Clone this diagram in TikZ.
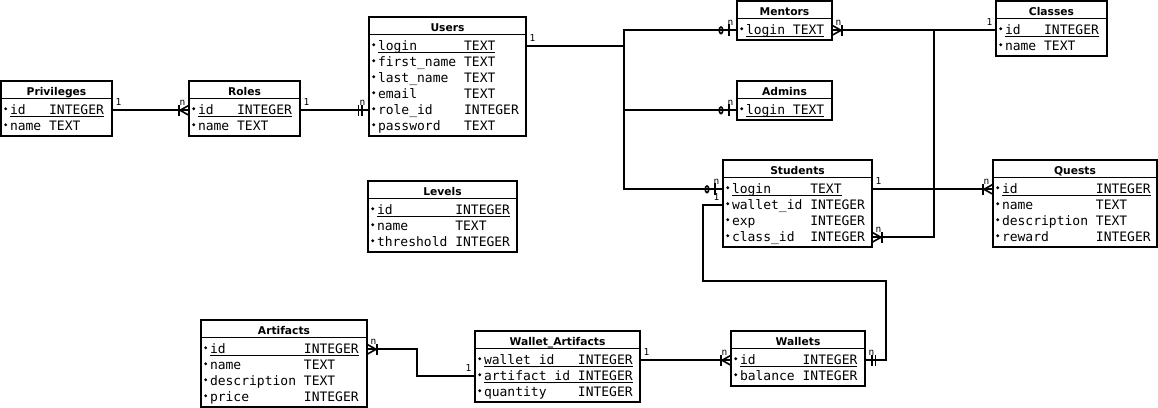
\documentclass[tikz,border=0pt]{standalone}
\usepackage{fontspec}
\setmainfont{DejaVu Sans}
\setmonofont{DejaVu Sans Mono}
\usetikzlibrary{calc}

\tikzset{
 tablebox/.style={draw, line width=2pt, inner sep=0pt, outer sep=0pt, fill=white},
 headline/.style={line width=1.6pt},
 rowcell/.style={inner sep=0pt, outer sep=0pt, minimum height=16pt},
 rowtext/.style={anchor=base west, inner sep=0pt, outer sep=0pt, font=\ttfamily\fontsize{13}{15}\selectfont},
 titletext/.style={anchor=base, inner sep=0pt, font=\bfseries\fontsize{10.7}{12}\selectfont},
 conn/.style={line width=2pt},
 deco/.style={line width=1.6pt},
 uline/.style={line width=1.2pt},
 cardlabel/.style={anchor=base, inner sep=0pt, font=\ttfamily\fontsize{9.5}{10}\selectfont},
}

% table frame: #1 name, #2 title, #3 x, #4 top, #5 width, #6 rows
\newcommand\ertable[6]{%
 \pgfmathsetmacro\erH{22.5+16*#6}%
 \edef\erx{#3}\edef\ert{#4}\edef\erw{#5}%
 \node[tablebox, minimum width=#5pt, minimum height=\erH pt, anchor=north west] (#1) at (#3,#4) {};
 \draw[headline] (#3,#4+17.5) -- (#3+#5,#4+17.5);
 \node[titletext] (#1-title) at (#3+#5/2,#4+14) {#2};
}
% row: #1 table, #2 row id, #3 index, #4 name, #5 type, #6 type column (chars)
\newcommand\errow[6]{%
 \pgfmathsetmacro\erc{\ert+29.3+16*#3}%
 \node[rowcell, minimum width=\erw pt, anchor=west] (#1-#2) at (\erx,\erc) {};
 \node[rowtext] (#1-#2-name) at (\erx+9,\erc+4.5) {#4};
 \node[rowtext] (#1-#2-type) at (\erx+9+#6*7.827,\erc+4.5) {#5};
 \fill (\erx+4.7,\erc-1.5) circle (1.6pt);
}
\newcommand\erkey[1]{%
 \draw[uline] ([yshift=-2pt]#1-name.base west) -- ([yshift=-2pt]#1-type.base east);
}
% ends: #1 anchor, #2 outward direction
\newcommand\crowend[2]{%
 \begin{scope}[shift={(#1)}, xscale=#2]
  \draw[deco] (0,-5) -- (9,0) -- (0,5);
  \draw[deco] (10,-5.5) -- (10,5.5);
 \end{scope}}
\newcommand\barsend[2]{%
 \begin{scope}[shift={(#1)}, xscale=#2]
  \draw[deco] (7,-5.5) -- (7,5.5);
  \draw[deco] (10.5,-5.5) -- (10.5,5.5);
 \end{scope}}
\newcommand\zeroend[2]{%
 \begin{scope}[shift={(#1)}, xscale=#2]
  \draw[deco] (8,-6) -- (8,6);
  \draw[deco] (16,0) ellipse [x radius=1.8pt, y radius=3.3pt];
 \end{scope}}
% label: #1 name, #2 anchor, #3 direction, #4 text
\newcommand\cardat[4]{%
 \node[cardlabel] (#1) at ($(#2)+(#3*6.5pt,5.2pt)$) {#4};}

\begin{document}
\begin{tikzpicture}[x=1pt,y=-1pt]
\useasboundingbox[fill=white] (0,0) rectangle (1158,407);

% ---------- tables ----------
\ertable{privileges}{Privileges}{1}{81}{111}{2}
\errow{privileges}{id}{0}{id}{INTEGER}{5}
\errow{privileges}{name}{1}{name}{TEXT}{5}
\erkey{privileges-id}

\ertable{roles}{Roles}{189}{81}{111}{2}
\errow{roles}{id}{0}{id}{INTEGER}{5}
\errow{roles}{name}{1}{name}{TEXT}{5}
\erkey{roles-id}

\ertable{users}{Users}{369}{17}{157}{6}
\errow{users}{login}{0}{login}{TEXT}{11}
\errow{users}{firstname}{1}{first\_name}{TEXT}{11}
\errow{users}{lastname}{2}{last\_name}{TEXT}{11}
\errow{users}{email}{3}{email}{TEXT}{11}
\errow{users}{roleid}{4}{role\_id}{INTEGER}{11}
\errow{users}{password}{5}{password}{TEXT}{11}
\erkey{users-login}

\ertable{levels}{Levels}{368}{181}{149}{3}
\errow{levels}{id}{0}{id}{INTEGER}{10}
\errow{levels}{name}{1}{name}{TEXT}{10}
\errow{levels}{threshold}{2}{threshold}{INTEGER}{10}
\erkey{levels-id}

\ertable{mentors}{Mentors}{737}{1}{95}{1}
\errow{mentors}{login}{0}{login}{TEXT}{6}
\erkey{mentors-login}

\ertable{admins}{Admins}{737}{81}{95}{1}
\errow{admins}{login}{0}{login}{TEXT}{6}
\erkey{admins-login}

\ertable{classes}{Classes}{996}{1}{111}{2}
\errow{classes}{id}{0}{id}{INTEGER}{5}
\errow{classes}{name}{1}{name}{TEXT}{5}
\erkey{classes-id}

\ertable{students}{Students}{723}{160}{149}{4}
\errow{students}{login}{0}{login}{TEXT}{10}
\errow{students}{walletid}{1}{wallet\_id}{INTEGER}{10}
\errow{students}{exp}{2}{exp}{INTEGER}{10}
\errow{students}{classid}{3}{class\_id}{INTEGER}{10}
\erkey{students-login}

\ertable{quests}{Quests}{993}{160}{164}{4}
\errow{quests}{id}{0}{id}{INTEGER}{12}
\errow{quests}{name}{1}{name}{TEXT}{12}
\errow{quests}{description}{2}{description}{TEXT}{12}
\errow{quests}{reward}{3}{reward}{INTEGER}{12}
\erkey{quests-id}

\ertable{artifacts}{Artifacts}{201}{320}{166}{4}
\errow{artifacts}{id}{0}{id}{INTEGER}{12}
\errow{artifacts}{name}{1}{name}{TEXT}{12}
\errow{artifacts}{description}{2}{description}{TEXT}{12}
\errow{artifacts}{price}{3}{price}{INTEGER}{12}
\erkey{artifacts-id}

\ertable{wa}{Wallet\_Artifacts}{475}{331}{165}{3}
\errow{wa}{walletid}{0}{wallet\_id}{INTEGER}{12}
\errow{wa}{artifactid}{1}{artifact\_id}{INTEGER}{12}
\errow{wa}{quantity}{2}{quantity}{INTEGER}{12}
\erkey{wa-walletid}
\erkey{wa-artifactid}

\ertable{wallets}{Wallets}{731}{331}{134}{2}
\errow{wallets}{id}{0}{id}{INTEGER}{8}
\errow{wallets}{balance}{1}{balance}{INTEGER}{8}
\erkey{wallets-id}

% ---------- connectors ----------
\coordinate (ujoin) at (624,46.3);
\coordinate (cjoin) at (934,30.3);
\coordinate (wj1) at (703,281);
\coordinate (wj2) at (886,281);
\coordinate (aj) at (417,362);

\draw[conn] (privileges-id.east) -- (roles-id.west);
\draw[conn] (roles-id.east) -- (users-roleid.west);
\draw[conn] (users-login.east) -- (ujoin) |- (mentors-login.west);
\draw[conn] (users-login.east) -- (ujoin) |- (admins-login.west);
\draw[conn] (users-login.east) -- (ujoin) |- (students-login.west);
\draw[conn] (mentors-login.east) -- (classes-id.west);
\draw[conn] (students-classid.east) -| (cjoin) -- (classes-id.west);
\draw[conn] (students-login.east) -- (quests-id.west);
\draw[conn] (students-walletid.west) -| (wj1) -- (wj2) |- (wallets-id.east);
\draw[conn] (wa-walletid.east) -- (wallets-id.west);
\draw[conn] (wa-artifactid.west) -| (aj) |- (artifacts-id.east);

% ---------- ends ----------
\crowend{roles-id.west}{-1}
\barsend{users-roleid.west}{-1}
\zeroend{mentors-login.west}{-1}
\zeroend{admins-login.west}{-1}
\zeroend{students-login.west}{-1}
\crowend{mentors-login.east}{1}
\crowend{students-classid.east}{1}
\crowend{quests-id.west}{-1}
\barsend{wallets-id.east}{1}
\crowend{wallets-id.west}{-1}
\crowend{artifacts-id.east}{1}

% ---------- cardinalities ----------
\cardat{c1}{privileges-id.east}{1}{1}
\cardat{c2}{roles-id.west}{-1}{n}
\cardat{c3}{roles-id.east}{1}{1}
\cardat{c4}{users-roleid.west}{-1}{n}
\cardat{c5}{users-login.east}{1}{1}
\cardat{c6}{mentors-login.west}{-1}{n}
\cardat{c7}{admins-login.west}{-1}{n}
\cardat{c8}{students-login.west}{-1}{n}
\cardat{c9}{students-walletid.west}{-1}{1}
\cardat{c10}{mentors-login.east}{1}{n}
\cardat{c11}{classes-id.west}{-1}{1}
\cardat{c12}{students-classid.east}{1}{n}
\cardat{c13}{students-login.east}{1}{1}
\cardat{c14}{quests-id.west}{-1}{n}
\cardat{c15}{wallets-id.east}{1}{n}
\cardat{c16}{wa-walletid.east}{1}{1}
\cardat{c17}{wallets-id.west}{-1}{n}
\cardat{c18}{wa-artifactid.west}{-1}{1}
\cardat{c19}{artifacts-id.east}{1}{n}
\end{tikzpicture}
\end{document}
